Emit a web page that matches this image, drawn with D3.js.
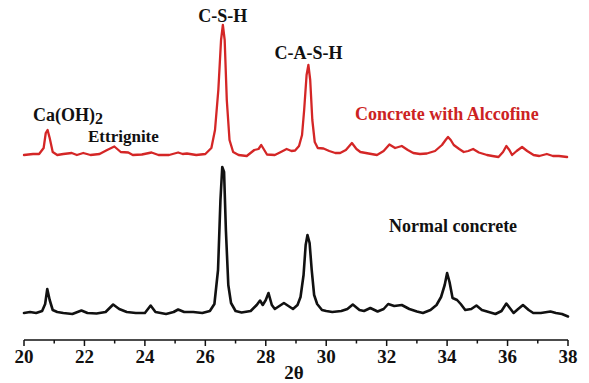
<!DOCTYPE html>
<html>
<head>
<meta charset="utf-8">
<script src="https://cdn.jsdelivr.net/npm/d3@7/dist/d3.min.js"></script>
<style>
  html, body { margin: 0; padding: 0; background: #fff; }
  svg text { font-family: 'Liberation Serif', 'Times New Roman', serif; font-weight: bold; }
</style>
</head>
<body>
<svg id="chart" width="589" height="383"></svg>
<script>
// 2theta (deg), intensity (a.u., offset stacked)
const normalTheta = [20.0, 20.2, 20.4, 20.6, 20.7, 20.77, 20.85, 20.95, 21.1, 21.3, 21.6, 21.9, 22.1, 22.4, 22.7, 22.95, 23.15, 23.4, 23.7, 24.0, 24.19, 24.35, 24.7, 24.95, 25.1, 25.3, 25.6, 25.9, 26.15, 26.3, 26.42, 26.5, 26.56, 26.62, 26.68, 26.76, 26.85, 27.0, 27.2, 27.5, 27.7, 27.81, 27.9, 28.0, 28.09, 28.2, 28.3, 28.45, 28.6, 28.75, 28.9, 29.05, 29.15, 29.25, 29.32, 29.38, 29.45, 29.52, 29.6, 29.7, 29.86, 30.0, 30.2, 30.5, 30.7, 30.88, 31.1, 31.25, 31.46, 31.7, 31.9, 32.05, 32.25, 32.5, 32.75, 33.0, 33.2, 33.45, 33.65, 33.8, 33.92, 34.0, 34.08, 34.18, 34.33, 34.45, 34.6, 34.8, 34.97, 35.15, 35.32, 35.6, 35.8, 35.96, 36.1, 36.2, 36.35, 36.51, 36.7, 36.85, 37.1, 37.42, 37.6, 37.8, 38.0];
const normalInt = [27, 28, 27, 29, 36, 51, 40, 30, 28, 27, 26, 29.5, 27, 26.5, 28, 35.5, 31, 28, 27, 27, 34.5, 28, 26, 28, 30.5, 28, 28, 27, 29, 36, 70, 140, 173, 168, 110, 55, 37, 29, 27.5, 29, 35, 39.5, 35, 40, 47, 35, 31, 34, 37, 34, 31, 35, 43, 65, 95, 105, 97, 70, 45, 36, 30, 29, 28, 29, 31, 35.5, 30, 29, 32, 28.5, 31, 36, 34, 35, 31, 28.5, 27, 30, 35, 43, 55, 67, 58, 42, 40, 36, 30, 31, 34.5, 30, 28.5, 26, 29, 36.5, 31, 27, 31, 35, 30, 27, 27, 28.5, 27, 26, 23.5];

const alccoTheta = [20.0, 20.3, 20.5, 20.65, 20.72, 20.78, 20.85, 20.95, 21.1, 21.3, 21.58, 21.75, 21.96, 22.2, 22.5, 22.75, 22.99, 23.2, 23.45, 23.6, 23.9, 24.22, 24.45, 24.8, 25.1, 25.25, 25.39, 25.7, 26.0, 26.2, 26.32, 26.43, 26.52, 26.58, 26.64, 26.71, 26.8, 26.92, 27.1, 27.37, 27.62, 27.76, 27.85, 27.95, 28.04, 28.3, 28.5, 28.69, 28.85, 28.97, 29.1, 29.2, 29.27, 29.35, 29.41, 29.47, 29.54, 29.62, 29.72, 29.91, 30.1, 30.3, 30.46, 30.65, 30.85, 31.0, 31.13, 31.4, 31.68, 31.9, 32.09, 32.28, 32.5, 32.7, 32.88, 33.1, 33.33, 33.6, 33.83, 33.95, 34.03, 34.12, 34.22, 34.4, 34.55, 34.7, 34.86, 35.05, 35.32, 35.5, 35.7, 35.85, 35.96, 36.06, 36.15, 36.3, 36.48, 36.65, 36.86, 37.05, 37.3, 37.5, 37.7, 37.97];
const alccoInt = [185, 186, 186, 192, 207, 210, 202, 188, 185, 186, 187, 185, 187, 185, 186, 190, 193.5, 188, 187.5, 185, 185.5, 187.5, 185, 185, 187.5, 186, 186.5, 185, 186, 192, 210, 250, 300, 315, 300, 240, 200, 188, 185, 184, 190, 191, 195, 190, 185.5, 185, 188, 191, 189, 189.5, 194, 205, 230, 265, 275, 260, 220, 198, 192, 191.5, 189, 187, 187, 190, 197, 191, 188, 186.5, 185, 189, 195.5, 192, 194, 190, 187, 186, 186.5, 189, 195, 200, 203, 200, 195, 191, 188, 189, 191, 187.5, 185, 184, 183, 188, 194, 190, 185, 189, 193, 189, 185, 184, 186, 184, 184, 183];

const xTicks = [20, 22, 24, 26, 28, 30, 32, 34, 36, 38];
const xMinorTicks = [21, 23, 25, 27, 29, 31, 33, 35, 37];

const peakLabels = [
  { text: 'C-S-H', theta: 26.58, top: 22 },
  { text: 'C-A-S-H', theta: 29.41, top: 59 }
];

const width = 589, height = 383;
const margin = { left: 24, right: 21, bottom: 43 };

const svg = d3.select('#chart');

const x = d3.scaleLinear().domain([20, 38]).range([margin.left, width - margin.right]);
const y = d3.scaleLinear().domain([0, 340]).range([height - margin.bottom, height - margin.bottom - 340]);

const line = d3.line()
  .x(d => x(d[0]))
  .y(d => y(d[1]))
  .curve(d3.curveLinear);

const drawSeries = (thetas, ints, color, w) => {
  svg.append('path')
    .datum(d3.zip(thetas, ints))
    .attr('fill', 'none')
    .attr('stroke', color)
    .attr('stroke-width', w)
    .attr('stroke-linejoin', 'round')
    .attr('stroke-linecap', 'round')
    .attr('d', line);
};
drawSeries(normalTheta, normalInt, '#111', 2.6);
drawSeries(alccoTheta, alccoInt, '#d42626', 2.3);

// x axis
const axisY = y(0);
const axisG = svg.append('g').attr('transform', `translate(0,${axisY})`);
axisG.append('line')
  .attr('x1', x(20)).attr('x2', x(38))
  .attr('stroke', '#111').attr('stroke-width', 1.5);
axisG.selectAll('line.major')
  .data(xTicks)
  .join('line')
  .attr('class', 'major')
  .attr('x1', d => x(d)).attr('x2', d => x(d))
  .attr('y1', 0).attr('y2', 6)
  .attr('stroke', '#111').attr('stroke-width', 1.5);
axisG.selectAll('line.minor')
  .data(xMinorTicks)
  .join('line')
  .attr('class', 'minor')
  .attr('x1', d => x(d)).attr('x2', d => x(d))
  .attr('y1', 0).attr('y2', 3.5)
  .attr('stroke', '#111').attr('stroke-width', 1.5);
axisG.selectAll('text')
  .data(xTicks)
  .join('text')
  .attr('x', d => x(d))
  .attr('y', 23)
  .attr('text-anchor', 'middle')
  .attr('font-size', 19)
  .attr('fill', '#111')
  .text(d => d);

svg.append('text')
  .attr('x', 294)
  .attr('y', 379)
  .attr('text-anchor', 'middle')
  .attr('font-size', 19)
  .attr('fill', '#111')
  .text('2θ');

// peak annotations
svg.selectAll('text.peak')
  .data(peakLabels)
  .join('text')
  .attr('class', 'peak')
  .attr('x', d => x(d.theta))
  .attr('y', d => d.top)
  .attr('text-anchor', 'middle')
  .attr('font-size', 18)
  .attr('fill', '#111')
  .text(d => d.text);

const caoh = svg.append('text')
  .attr('x', 33).attr('y', 121)
  .attr('font-size', 18).attr('fill', '#111');
caoh.append('tspan').text('Ca(OH)');
caoh.append('tspan').attr('dy', 3).attr('font-size', 16).text('2');

svg.append('text')
  .attr('x', 88).attr('y', 142)
  .attr('font-size', 17).attr('fill', '#111')
  .text('Ettrignite');

svg.append('text')
  .attr('x', 355).attr('y', 120)
  .attr('font-size', 18).attr('fill', '#cc2222')
  .text('Concrete with Alccofine');

svg.append('text')
  .attr('x', 389).attr('y', 232)
  .attr('font-size', 18).attr('fill', '#111')
  .text('Normal concrete');
</script>
</body>
</html>
